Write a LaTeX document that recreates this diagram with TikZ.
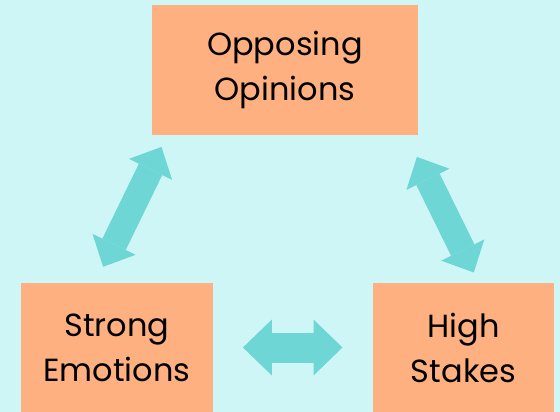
\documentclass[tikz,border=0pt]{standalone}
\usepackage{fontspec}
\setmainfont{Poppins}
\usetikzlibrary{arrows.meta}
\definecolor{bgcyan}{RGB}{207,246,246}
\definecolor{boxsalmon}{RGB}{254,176,128}
\definecolor{arrowteal}{RGB}{110,214,212}

\begin{document}
\begin{tikzpicture}[x=1pt,y=-1pt,
	box/.style={fill=boxsalmon, inner sep=0pt, align=center, font=\fontsize{32}{45}\selectfont},
	fatarrow/.style={draw=arrowteal, line width=26pt, {Triangle[length=25pt,width=48pt,line width=0pt]}-{Triangle[length=25pt,width=48pt,line width=0pt]}},
	widearrow/.style={draw=arrowteal, line width=30pt, {Triangle[length=29pt,width=56pt,line width=0pt]}-{Triangle[length=29pt,width=56pt,line width=0pt]}}
	]
	% Background
	\fill[bgcyan] (0,0) rectangle (560,412);
	
	% Boxes
	\node[box, minimum width=266pt, minimum height=130pt] (opp) at (285,70) {Opposing\\Opinions};
	\node[box, minimum width=192pt, minimum height=129pt] (emo) at (117,347.5) {Strong\\Emotions};
	\node[box, minimum width=181pt, minimum height=129pt] (stk) at (463.5,347.5) {High\\Stakes};
	
	% Arrow ends
	\coordinate (l1) at ([xshift=82.3pt,yshift=16pt]emo.north west);
	\coordinate (l2) at ([xshift=9.7pt,yshift=-11.7pt]opp.south west);
	\coordinate (r1) at ([xshift=-1.3pt,yshift=-21.7pt]opp.south east);
	\coordinate (r2) at ([xshift=101pt,yshift=10.3pt]stk.north west);
	\coordinate (m1) at ([xshift=29.7pt]emo.east);
	\coordinate (m2) at ([xshift=-30.3pt]stk.west);
	
	% Arrows
	\draw[fatarrow] (l1) -- (l2);
	\draw[fatarrow] (r1) -- (r2);
	\draw[widearrow] (m1) -- (m2);
\end{tikzpicture}
\end{document}
